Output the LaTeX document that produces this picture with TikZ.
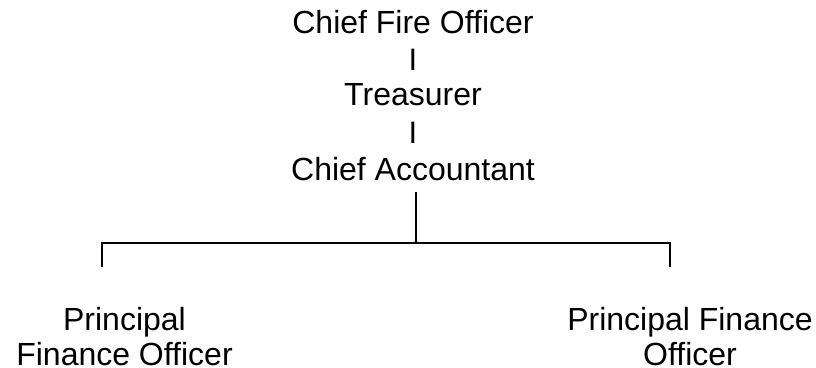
\documentclass[tikz,border=0pt]{standalone}
\usepackage{fontspec}
\setmainfont{Liberation Sans}
\begin{document}
\begin{tikzpicture}[x=1pt,y=-1pt,
  lbl/.style={inner sep=0pt,anchor=base,font=\fontsize{32}{36.8}\selectfont,align=center},
  barlbl/.style={inner sep=0pt,anchor=base,font=\fontsize{31}{36}\selectfont},
  conn/.style={line width=1.6pt,black}]
\useasboundingbox (0,0) rectangle (816,367);
\node[lbl] (cfo) at (413,33) {Chief Fire Officer};
\node[barlbl] (bar1) at (413,70) {I};
\node[lbl] (tr) at (413,105) {Treasurer};
\node[barlbl] (bar2) at (413,143) {I};
\node[lbl] (ca) at (413,180) {Chief Accountant};
\node[lbl] (pl1) at (124.5,330) {Principal};
\node[lbl] (pl2) at (124.5,365.5) {Finance Officer};
\node[lbl] (pr1) at (690,330) {Principal Finance};
\node[lbl] (pr2) at (690,365.5) {Officer};
\coordinate (top) at (415.7,192);
\coordinate (j) at (415.7,243);
\coordinate (lc) at (101.7,243);
\coordinate (rc) at (670,243);
\coordinate (lt) at (101.7,266.7);
\coordinate (rt) at (670,266.7);
\draw[conn] (top) -- (j);
\draw[conn] (lt) -- (lc) -- (rc) -- (rt);
\end{tikzpicture}
\end{document}
